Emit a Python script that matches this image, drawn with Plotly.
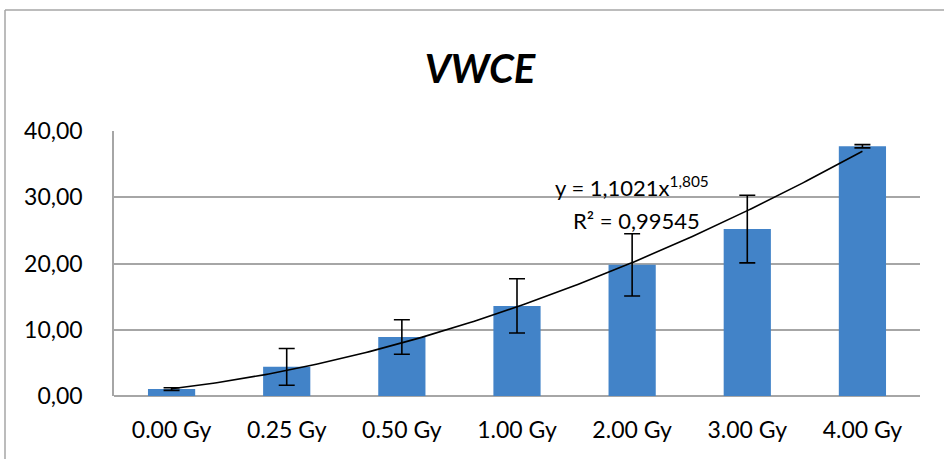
import numpy as np
import plotly.graph_objects as go

categories = ["0.00 Gy", "0.25 Gy", "0.50 Gy", "1.00 Gy", "2.00 Gy", "3.00 Gy", "4.00 Gy"]
values = [1.05, 4.4, 8.9, 13.6, 19.8, 25.2, 37.7]
errors = [0.2, 2.77, 2.6, 4.1, 4.7, 5.1, 0.25]
y_ticks = [0, 10, 20, 30, 40]

trend_a = 1.1021
trend_b = 1.805

W, H = 944, 459
L, R, T, B = 114, 24, 131, 63
FONT = "Lato"

idx = list(range(len(categories)))
xt = np.linspace(0, len(categories) - 1, 200)
yt = trend_a * (xt + 1) ** trend_b

fig = go.Figure()
fig.add_trace(go.Bar(
    x=idx, y=values, width=0.41,
    marker=dict(color="#4283C8", line=dict(width=0)),
    error_y=dict(type="data", array=errors, visible=True, color="black", thickness=1.6, width=8),
    showlegend=False,
))
fig.add_trace(go.Scatter(
    x=xt, y=yt, mode="lines", line=dict(color="black", width=1.6),
    showlegend=False, hoverinfo="skip",
))

pw = W - L - R
ph = H - T - B
def px(xp):
    return (xp - L) / pw
def py(yp):
    return (H - B - yp) / ph

shapes = [
    dict(type="line", xref="paper", yref="paper", x0=px(5), x1=px(5), y0=py(10), y1=py(470),
         line=dict(color="#A6A6A6", width=1.5)),
    dict(type="line", xref="paper", yref="paper", x0=px(5), x1=px(960), y0=py(10), y1=py(10),
         line=dict(color="#A6A6A6", width=1.5)),
]

fig.update_layout(
    width=W, height=H,
    margin=dict(l=L, r=R, t=T, b=B),
    paper_bgcolor="white", plot_bgcolor="white",
    separators=",.",
    font=dict(family=FONT, size=23, color="black"),
    title=dict(text="<b><i>VWCE</i></b>", x=480 / W, xanchor="center", y=1 - 69 / H, yanchor="middle",
               xref="container", yref="container", font=dict(family=FONT, size=40, color="black")),
    shapes=shapes,
    xaxis=dict(
        tickmode="array", tickvals=idx, ticktext=categories, range=[-0.5, len(categories) - 0.5],
        showgrid=False, showline=False, zeroline=False, ticks="", ticklabelstandoff=18,
        tickfont=dict(family=FONT, size=23, color="black"),
    ),
    yaxis=dict(
        range=[0, 40], tickmode="array", tickvals=y_ticks, tickformat=".2f",
        showgrid=True, gridcolor="#A6A6A6", gridwidth=1.5,
        showline=True, linecolor="#A6A6A6", linewidth=1.5, zeroline=True, zerolinecolor="#A6A6A6",
        zerolinewidth=1.5, ticks="", ticklabelstandoff=25,
        tickfont=dict(family=FONT, size=23, color="black"),
    ),
    annotations=[
        dict(text="y = 1,1021x<sup>1,805</sup>", x=px(632), y=py(203), xref="paper", yref="paper",
             showarrow=False, xanchor="center", yanchor="bottom", font=dict(family=FONT, size=22, color="black")),
        dict(text="R² = 0,99545", x=px(636), y=py(205), xref="paper", yref="paper",
             showarrow=False, xanchor="center", yanchor="top", font=dict(family=FONT, size=22, color="black")),
    ],
)

fig.write_html("out.html")
